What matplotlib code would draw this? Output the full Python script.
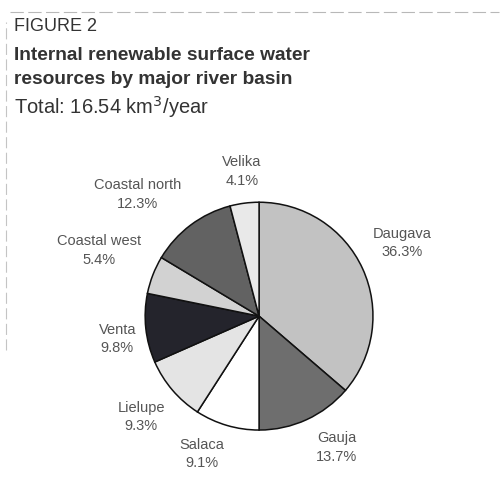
import numpy as np
import matplotlib.pyplot as plt
from matplotlib.lines import Line2D

plt.rcParams['font.family'] = ['Liberation Sans', 'DejaVu Sans']

basins = ['Daugava', 'Gauja', 'Salaca', 'Lielupe', 'Venta',
          'Coastal west', 'Coastal north', 'Velika']
shares = [36.3, 13.7, 9.1, 9.3, 9.8, 5.4, 12.3, 4.1]
shades = ['#c2c2c2', '#6e6e6e', '#ffffff', '#e4e4e4', '#24242c',
          '#d2d2d2', '#626262', '#e9e9e9']

# label placement tweaks (radius, angle shift in degrees)
label_r = [1.41, 1.34, 1.31, 1.36, 1.26, 1.52, 1.51, 1.28]
label_shift = [2.5, 6, -6, 0, 3, -1, 8, -0.7]

fig = plt.figure(figsize=(5.04, 4.79), dpi=100)

# scan-like border scraps
fig.add_artist(Line2D([0.02, 0.99], [0.975, 0.975], color='#b8b8b8',
                      lw=0.8, ls=(0, (12, 4)), transform=fig.transFigure))
fig.add_artist(Line2D([0.011, 0.011], [0.27, 0.955], color='#c4c4c4',
                      lw=0.8, ls=(0, (10, 4)), transform=fig.transFigure))

fig.text(0.028, 0.944, 'FIGURE 2', fontsize=13, color='#333333', va='center')
fig.text(0.028, 0.885, 'Internal renewable surface water', fontsize=13.8,
         fontweight='bold', color='#333333', va='center')
fig.text(0.028, 0.833, 'resources by major river basin', fontsize=13.8,
         fontweight='bold', color='#333333', va='center')
fig.text(0.028, 0.776, 'Total: 16.54 km$^3$/year', fontsize=14.5,
         color='#333333', va='center')

ax = fig.add_axes([0.288, 0.102, 0.452, 0.476])
labels = [f'{b}\n{s}%' for b, s in zip(basins, shares)]
wedges, texts = ax.pie(shares, labels=labels, colors=shades, startangle=90,
                       counterclock=False,
                       wedgeprops=dict(edgecolor='#111111', linewidth=1.1),
                       textprops=dict(fontsize=10.5, color='#555555',
                                      linespacing=1.4))
for w, t, r, d in zip(wedges, texts, label_r, label_shift):
    ang = np.deg2rad((w.theta1 + w.theta2) / 2 + d)
    t.set_position((r * np.cos(ang), r * np.sin(ang)))
    t.set_ha('center')
    t.set_va('center')
ax.set_xlim(-1, 1)
ax.set_ylim(-1, 1)
ax.set_aspect('equal')

fig.savefig('out.png', dpi=100)
